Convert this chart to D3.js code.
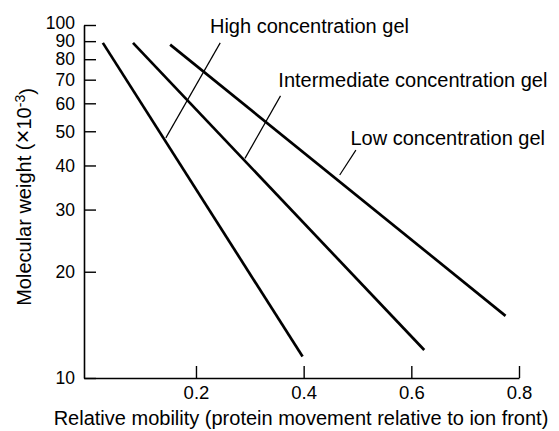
<!DOCTYPE html>
<html>
<head>
<meta charset="utf-8">
<script src="https://cdn.jsdelivr.net/npm/d3@7"></script>
<style>
  body { margin: 0; background: #fff; }
  svg { display: block; font-family: "Liberation Sans", Arial, Helvetica, sans-serif; }
</style>
</head>
<body>
<div id="chart"></div>
<script>
// tick values
const xTicks = [0.2, 0.4, 0.6, 0.8];
const yTicks = [10, 20, 30, 40, 50, 60, 70, 80, 90, 100];

// one straight line per gel (relative mobility vs molecular weight x10^-3)
const gels = ["High concentration gel", "Intermediate concentration gel", "Low concentration gel"];
const mobilityStart = [0.027, 0.083, 0.152];
const weightStart = [89, 89, 88];
const mobilityEnd = [0.398, 0.624, 0.775];
const weightEnd = [11.5, 12, 15];

// label anchors and leader lines, in data units
const labelMobility = [0.226, 0.353, 0.487];
const labelWeight = [94.8, 66.8, 45.7];
const leaderFromMobility = [0.144, 0.291, 0.467];
const leaderFromWeight = [47.9, 41.9, 37.6];
const leaderToMobility = [0.245, 0.357, 0.497];
const leaderToWeight = [89, 63, 44.2];

const width = 559, height = 431;

const svg = d3.select("#chart").append("svg")
  .attr("width", width)
  .attr("height", height);

const x = d3.scaleLinear().domain([-0.008, 0.8]).range([84, 519]);
const y = d3.scaleLog().domain([10, 100]).range([378, 25]);

// x axis, ticks pointing up into the plot
const xAxis = svg.append("g")
  .attr("transform", `translate(0,${y(10)})`)
  .call(d3.axisBottom(x).tickValues(xTicks).tickSize(-12).tickSizeOuter(0).tickPadding(5)
    .tickFormat(d3.format(".1f")));

// y axis, ticks pointing right into the plot
const yAxis = svg.append("g")
  .attr("transform", `translate(${x(-0.008)},0)`)
  .call(d3.axisLeft(y).tickValues(yTicks).tickSize(-12).tickSizeOuter(0).tickPadding(9)
    .tickFormat(d3.format("d")));

[xAxis, yAxis].forEach(ax => {
  ax.select(".domain").attr("stroke", "#000").attr("stroke-width", 1.6);
  ax.selectAll(".tick line").attr("stroke", "#000").attr("stroke-width", 1.4);
  ax.selectAll(".tick text")
    .attr("fill", "#000")
    .attr("font-size", "17.5px")
    .attr("font-family", "'Liberation Sans', Arial, sans-serif");
});
xAxis.selectAll(".tick text").attr("y", 8).attr("font-size", "18.5px");
// top label sits a little high in the original, clear of "90"
yAxis.selectAll(".tick text").attr("dy", d => d === 100 ? "0.2em" : "0.33em");

// gel lines
const lines = gels.map((g, i) => ({
  name: g,
  pts: [[mobilityStart[i], weightStart[i]], [mobilityEnd[i], weightEnd[i]]]
}));

const line = d3.line().x(d => x(d[0])).y(d => y(d[1]));

svg.append("g").selectAll("path")
  .data(lines)
  .join("path")
  .attr("d", d => line(d.pts))
  .attr("fill", "none")
  .attr("stroke", "#000")
  .attr("stroke-width", 2.7);

// leader lines
svg.append("g").selectAll("line")
  .data(gels)
  .join("line")
  .attr("x1", (d, i) => x(leaderFromMobility[i]))
  .attr("y1", (d, i) => y(leaderFromWeight[i]))
  .attr("x2", (d, i) => x(leaderToMobility[i]))
  .attr("y2", (d, i) => y(leaderToWeight[i]))
  .attr("stroke", "#000")
  .attr("stroke-width", 1.2);

// labels
svg.append("g").selectAll("text")
  .data(gels)
  .join("text")
  .attr("x", (d, i) => x(labelMobility[i]))
  .attr("y", (d, i) => y(labelWeight[i]))
  .attr("font-size", "20px")
  .attr("fill", "#000")
  .text(d => d);

// axis titles
svg.append("text")
  .attr("x", 301)
  .attr("y", 425)
  .attr("text-anchor", "middle")
  .attr("font-size", "20px")
  .text("Relative mobility (protein movement relative to ion front)");

const yTitle = svg.append("text")
  .attr("transform", "translate(31,197) rotate(-90)")
  .attr("text-anchor", "middle")
  .attr("font-size", "20px");
yTitle.append("tspan").text("Molecular weight (");
yTitle.append("tspan").attr("font-size", "24px").text("\u00d7");
yTitle.append("tspan").text("10");
yTitle.append("tspan").attr("dy", "-0.45em").attr("font-size", "14px").text("-3");
yTitle.append("tspan").attr("dy", "0.45em").text(")");
</script>
</body>
</html>
